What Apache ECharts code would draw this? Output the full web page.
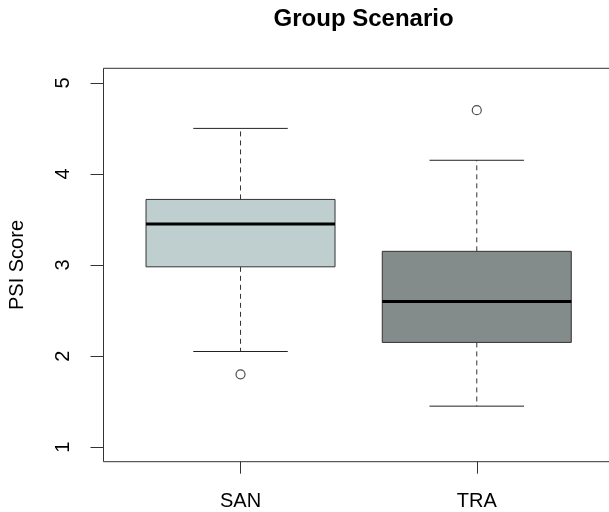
<!DOCTYPE html>
<html><head><meta charset="utf-8">
<script src="https://cdn.jsdelivr.net/npm/echarts@6/dist/echarts.min.js"></script>
<style>html,body{margin:0;padding:0;background:#fff;overflow:hidden}#c{width:609px;height:512px}</style>
</head><body><div id="c"></div>
<script>
var categories = ['SAN', 'TRA'];
var whiskerLow = [2.05, 1.45];
var q1 = [2.98, 2.15];
var median = [3.45, 2.60];
var q3 = [3.72, 3.15];
var whiskerHigh = [4.5, 4.15];
var outliers = [[1.8], [4.7]];
var fills = ['#BFCECE', '#838B8B'];
var yTicks = [1, 2, 3, 4, 5];

var boxData = categories.map(function (c, i) {
  return [i + 1, whiskerLow[i], q1[i], median[i], q3[i], whiskerHigh[i], i];
});
var outData = [];
outliers.forEach(function (arr, i) { arr.forEach(function (v) { outData.push([i + 1, v]); }); });

var F = 'Liberation Sans, Arial, Helvetica, sans-serif';
var chart = echarts.init(document.getElementById('c'), null, {renderer: 'canvas'});
chart.setOption({
  animation: false,
  title: {text: 'Group Scenario', left: 358.6, top: 2, textAlign: 'center',
    textStyle: {fontFamily: F, fontSize: 24, fontWeight: 'bold', color: '#000'}},
  grid: {left: 103.5, top: 68.3, width: 510.3, height: 393.4, show: true,
    outerBoundsMode: 'none', containLabel: false,
    borderColor: '#333', borderWidth: 1, backgroundColor: 'transparent'},
  xAxis: {type: 'value', min: 0.42, max: 2.58,
    axisLine: {show: false}, splitLine: {show: false},
    axisTick: {show: true, inside: false, length: 12, customValues: [1, 2], lineStyle: {color: '#333'}},
    axisLabel: {show: true, customValues: [1, 2], margin: 30, fontFamily: F, fontSize: 20, color: '#000',
      formatter: function (v) { return categories[Math.round(v) - 1] || ''; }}
  },
  yAxis: {type: 'value', min: 0.84, max: 5.16,
    name: 'PSI Score', nameLocation: 'middle', nameGap: 76, nameRotate: 90,
    nameTextStyle: {fontFamily: F, fontSize: 20, color: '#000'},
    axisLine: {show: false}, splitLine: {show: false},
    axisTick: {show: true, length: 13, customValues: yTicks, lineStyle: {color: '#333'}},
    axisLabel: {show: true, customValues: yTicks, rotate: 90, margin: 30, fontFamily: F, fontSize: 20, color: '#000'}
  },
  series: [{
    type: 'custom',
    data: boxData,
    renderItem: function (params, api) {
      var x = api.value(0);
      var lo = api.coord([x, api.value(1)]);
      var b1 = api.coord([x, api.value(2)]);
      var md = api.coord([x, api.value(3)]);
      var b3 = api.coord([x, api.value(4)]);
      var hi = api.coord([x, api.value(5)]);
      var half = api.size([0.4, 0])[0];
      var cap = api.size([0.2, 0])[0];
      var cx = lo[0];
      var idx = api.value(6);
      var dash = {stroke: '#333', lineWidth: 1, lineDash: [5, 4]};
      var solid = {stroke: '#222', lineWidth: 1};
      return {type: 'group', children: [
        {type: 'line', shape: {x1: cx, y1: b3[1], x2: cx, y2: hi[1]}, style: dash},
        {type: 'line', shape: {x1: cx, y1: b1[1], x2: cx, y2: lo[1]}, style: dash},
        {type: 'line', shape: {x1: cx - cap, y1: hi[1], x2: cx + cap, y2: hi[1]}, style: solid},
        {type: 'line', shape: {x1: cx - cap, y1: lo[1], x2: cx + cap, y2: lo[1]}, style: solid},
        {type: 'rect', shape: {x: cx - half, y: b3[1], width: 2 * half, height: b1[1] - b3[1]},
          style: {fill: fills[idx], stroke: '#333', lineWidth: 1}},
        {type: 'line', shape: {x1: cx - half, y1: md[1], x2: cx + half, y2: md[1]},
          style: {stroke: '#000', lineWidth: 3}}
      ]};
    }
  }, {
    type: 'scatter',
    data: outData,
    symbol: 'circle', symbolSize: 9,
    itemStyle: {color: 'transparent', borderColor: '#222', borderWidth: 1.2}
  }]
});
</script></body></html>
